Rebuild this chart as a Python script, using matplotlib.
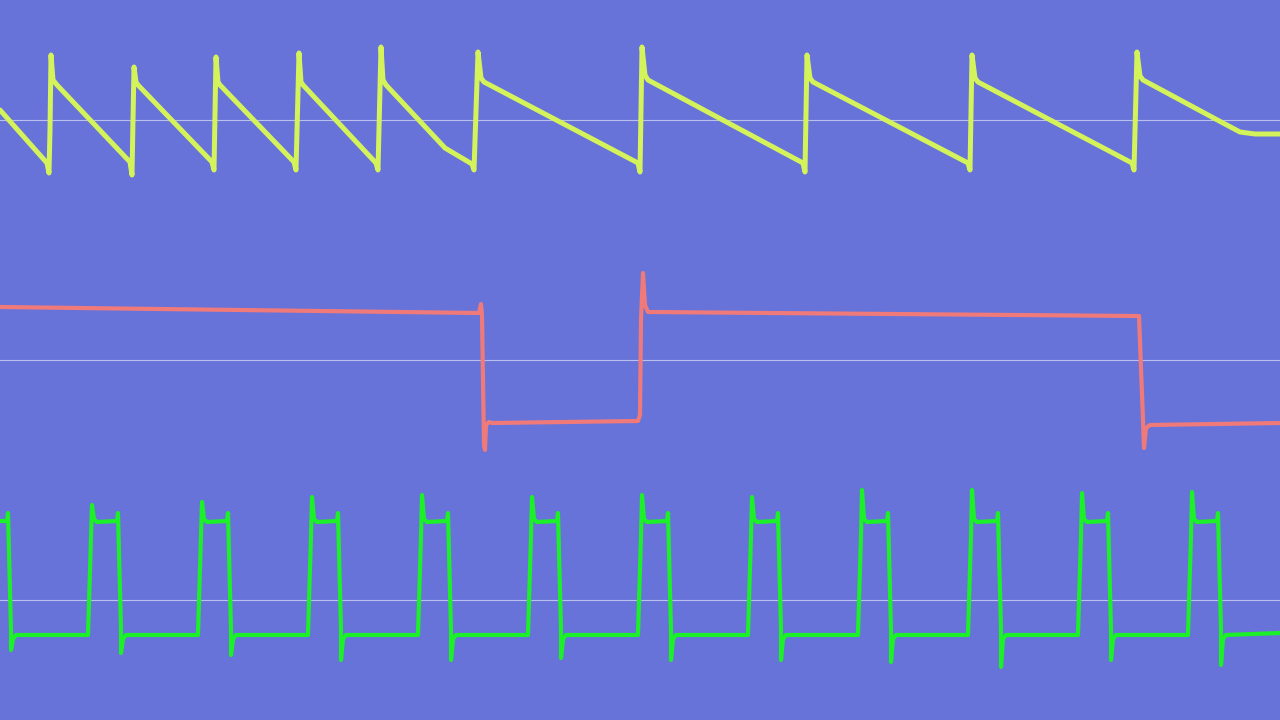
import matplotlib
matplotlib.use("Agg")
import matplotlib.pyplot as plt

# ---- data (time in samples 0..1280, value = offset from channel baseline, up positive) ----
# Channel 1 (yellow sawtooth): vertices
yellow_t = [0, 47, 49, 50, 51, 53, 57,
            130, 132, 133, 134, 136, 138,
            212, 214, 216, 218, 220,
            294, 296, 299, 301, 303,
            376, 378, 381, 383, 386,
            445, 472, 474, 478, 481, 484,
            638, 640, 642, 645, 648,
            803, 805, 807, 810, 813,
            968, 970, 972, 975, 978,
            1132, 1134, 1137, 1140, 1143,
            1223, 1240, 1255, 1280]
yellow_v = [10, -43, -53, -10, 65, 40, 35,
            -42, -55, 0, 53, 38, 35,
            -42, -50, 63, 38, 35,
            -42, -50, 67, 38, 35,
            -43, -50, 73, 40, 35,
            -28, -44, -50, 68, 42, 38,
            -43, -52, 73, 45, 40,
            -43, -52, 65, 42, 38,
            -43, -50, 65, 42, 38,
            -43, -50, 68, 44, 40,
            -3, -12, -14, -14]

# Channel 2 (red square wave)
red_t = [0, 479, 481, 482, 484, 485, 486, 489, 492,
         638, 640, 641, 643, 645, 648,
         1137, 1139, 1143, 1144, 1146, 1150, 1280]
red_v = [53, 47, 56, 45, -85, -90, -65, -62, -63,
         -61, -55, 40, 87, 55, 48,
         44, 44, -60, -88, -68, -65, -63]

# Channel 3 (green pulse train)
green_high = 79
green_low = -35
green_rise = [90, 200, 310, 420, 530, 640, 750, 860, 970, 1080, 1190]
green_fall = [8, 118, 228, 338, 448, 558, 668, 778, 888, 998, 1108, 1218]
green_peak = [95, 98, 103, 105, 103, 105, 103, 110, 110, 107, 108]
green_dip = [-50, -53, -55, -60, -60, -58, -60, -60, -62, -67, -60, -65]

baselines = [240, 0, -240]
bg = "#6773D8"

# ---- build green vertex list from edges ----
gt, gv = [0], [green_high]
events = sorted([(f, "f", i) for i, f in enumerate(green_fall)] +
                [(r, "r", i) for i, r in enumerate(green_rise)])
for t, kind, i in events:
    if kind == "f":
        gt += [t - 1, t, t + 3, t + 3, t + 5, t + 8]
        gv += [green_high, green_high + 8, green_low + 5, green_dip[i], green_low - 4, green_low]
    else:
        gt += [t - 2, t + 1, t + 2, t + 4, t + 7]
        gv += [green_low, green_high - 15, green_peak[i], green_high + 2, green_high - 1]
gt.append(1280)
gv.append(green_low + 2)

fig = plt.figure(figsize=(12.8, 7.2), dpi=100)
fig.patch.set_facecolor(bg)
ax = fig.add_axes([0, 0, 1, 1])
ax.set_facecolor(bg)
ax.set_xlim(0, 1280)
ax.set_ylim(-360, 360)
ax.axis("off")

for b in baselines:
    ax.axhline(b, color="white", alpha=0.55, lw=0.8, zorder=1)

ax.plot(yellow_t, [v + baselines[0] for v in yellow_v], color="#D4F25A", lw=3.6,
        solid_joinstyle="round", solid_capstyle="round", zorder=3)
ax.plot(red_t, [v + baselines[1] for v in red_v], color="#F07A7A", lw=3.0,
        solid_joinstyle="round", solid_capstyle="round", zorder=3)
ax.plot(gt, [v + baselines[2] for v in gv], color="#1CF028", lw=3.0,
        solid_joinstyle="round", solid_capstyle="round", zorder=3)

fig.savefig("out.png", dpi=100, facecolor=bg)
